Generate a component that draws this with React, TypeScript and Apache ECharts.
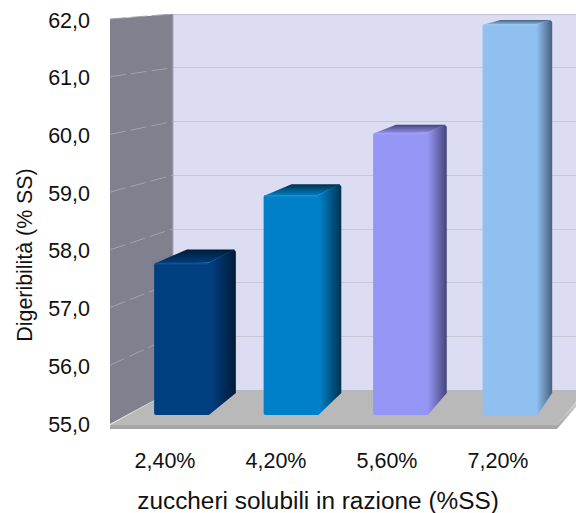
import React, { useEffect, useRef } from "react";
import * as echarts from "echarts";

const categories = ["2,40%", "4,20%", "5,60%", "7,20%"];
const digestibility = [57.7, 58.9, 60.0, 61.93];
const yMin = 55;
const yMax = 62;
const yTicks = [56, 57, 58, 59, 60, 61, 62];
const xTitle = "zuccheri solubili in razione (%SS)";
const yTitle = "Digeribilità (% SS)";
const barMain = ["#003f80", "#0080c8", "#9595f5", "#90c0f0"];
const barDark = ["#001b38", "#00324f", "#45457a", "#47607f"];
const FONT = '"Liberation Sans", Arial, sans-serif';

const grad = (x2: number, y2: number, stops: [number, string][]) =>
  new echarts.graphic.LinearGradient(0, 0, x2, y2, stops.map(([offset, color]) => ({ offset, color })));

// how the bar depth foreshortens toward the back wall
const backLeft = (x: number) => 0.954 * x + 40;
const backRight = (x: number) => 0.963 * x + 34.7;
const backY = (y: number) =>
  y - (y <= 263 ? 4 + (y - 24) * 0.0385 : 13 + (y - 263) * 0.059);

function renderBar(_: any, api: any) {
  const i = api.value(0);
  const top = api.coord([i, api.value(1)]);
  const base = api.coord([i, yMin]);
  const w = api.size([1, 0])[0] / 2;
  const l = top[0] - w / 2;
  const r = top[0] + w / 2;
  const main = barMain[i];
  const dark = barDark[i];
  const bl = backLeft(l);
  const br = backRight(r);
  const ty = backY(top[1]);
  const by = backY(base[1]);
  return {
    type: "group",
    children: [
      {
        type: "polygon",
        shape: { points: [[l, top[1] + 1], [bl, ty], [br - 1, ty], [r, top[1]]] },
        style: { fill: grad(0, 1, [[0, dark], [1, main]]) },
      },
      {
        type: "polygon",
        shape: { points: [[r - 6, top[1]], [r, top[1]], [br - 2, ty], [br, ty + 2], [br, by], [r, base[1]], [r - 6, base[1]]] },
        style: { fill: grad(1, 0, [[0, main], [0.25, main], [1, dark]]) },
      },
      {
        type: "rect",
        shape: { x: l, y: top[1], width: r - l - 4, height: base[1] - top[1], r: [2, 0, 0, 2] },
        style: { fill: main },
      },
      {
        type: "rect",
        shape: { x: l, y: top[1], width: r - l, height: 3 },
        style: { fill: grad(0, 1, [[0, "rgba(255,255,255,0.12)"], [1, "rgba(255,255,255,0)"]]) },
      },
    ],
  };
}

export default function App() {
  const ref = useRef<HTMLDivElement>(null);
  useEffect(() => {
    document.body.style.margin = "0";
    const chart = echarts.init(ref.current!, null, { renderer: "svg" });
    chart.setOption({
      animation: false,
      grid: [
        { left: 109.5, top: 20.5, width: 444, height: 404 },
        { left: 173, top: 14, width: 403, height: 376, show: true, backgroundColor: "#dcdcf3", borderWidth: 0 },
        { left: 126.75, top: 20, width: 438, height: 395 },
      ],
      xAxis: [
        {
          gridIndex: 0,
          type: "category",
          data: categories,
          axisLine: { show: false },
          axisTick: { show: false },
          axisLabel: { color: "#111", fontFamily: FONT, fontSize: 21.5, margin: 25 },
        },
        { gridIndex: 1, type: "category", show: false, data: categories },
        { gridIndex: 2, type: "category", show: false, data: categories },
      ],
      yAxis: [
        {
          gridIndex: 0,
          type: "value",
          min: yMin,
          max: yMax,
          interval: 1,
          splitLine: { show: false },
          axisLine: { show: false },
          axisTick: { show: false },
          axisLabel: {
            color: "#111",
            fontFamily: FONT,
            fontSize: 21.5,
            margin: 19.5,
            formatter: (v: number) => v.toFixed(1).replace(".", ","),
          },
        },
        {
          gridIndex: 1,
          type: "value",
          min: yMin,
          max: yMax,
          interval: 1,
          axisLine: { show: false },
          axisTick: { show: false },
          axisLabel: { show: false },
          splitLine: { show: true, lineStyle: { color: "#c6c6d6", width: 1 } },
        },
        { gridIndex: 2, type: "value", show: false, min: yMin, max: yMax },
      ],
      series: [
        {
          type: "custom",
          coordinateSystem: "cartesian2d",
          xAxisIndex: 2,
          yAxisIndex: 2,
          z: 5,
          encode: { x: 0, y: 1 },
          data: digestibility.map((v, i) => [i, v]),
          renderItem: renderBar,
        },
      ],
    });

    const frontY = (v: number) => (chart.convertToPixel({ yAxisIndex: 0 }, v) as number) - 1.5;
    const rearY = (v: number) => chart.convertToPixel({ yAxisIndex: 1 }, v) as number;
    const wallX = 110;
    const rearX = 173;
    const floorBack = rearY(yMin);
    const floorFront = frontY(yMin) + 1;
    chart.setOption({
      graphic: [
        {
          type: "polygon",
          z: 1,
          shape: { points: [[wallX, frontY(yMax)], [rearX, rearY(yMax)], [rearX, floorBack], [wallX, floorFront]] },
          style: { fill: "#80808e" },
        },
        {
          type: "line",
          z: 1,
          shape: { x1: rearX, y1: rearY(yMax), x2: rearX, y2: floorBack },
          style: { stroke: "#a8a8b2", lineWidth: 1 },
        },
        ...yTicks.map((t) => ({
          type: "line",
          z: 1,
          shape: { x1: wallX, y1: frontY(t), x2: rearX, y2: rearY(t) },
          style: { stroke: "#a4a4ae", lineWidth: 1, lineDash: [16, 5] },
        })),
        {
          type: "polygon",
          z: 2,
          shape: { points: [[wallX, floorFront + 1], [rearX, floorBack], [576, floorBack], [576, 402], [557, 425]] },
          style: { fill: "#b9b9b9" },
        },
        {
          type: "polygon",
          z: 2,
          shape: { points: [[wallX, 425], [557, 425], [576, 402], [576, 407], [557, 429], [wallX, 429]] },
          style: { fill: grad(0, 1, [[0, "#d0d0d0"], [1, "#a4a4a4"]]) },
        },
        {
          type: "text",
          x: 24,
          y: 255,
          rotation: Math.PI / 2,
          scaleX: 0.93,
          z: 6,
          style: { text: yTitle, align: "center", verticalAlign: "middle", fill: "#111", font: `23px ${FONT}` },
        },
        {
          type: "text",
          x: 318,
          y: 501,
          scaleX: 1.06,
          z: 6,
          style: { text: xTitle, align: "center", verticalAlign: "middle", fill: "#111", font: `23px ${FONT}` },
        },
      ],
    });
    return () => chart.dispose();
  }, []);
  return <div ref={ref} style={{ width: 576, height: 513 }} />;
}
